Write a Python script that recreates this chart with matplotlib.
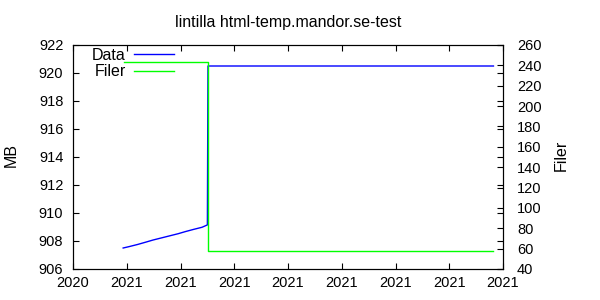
import matplotlib
matplotlib.use("Agg")
import matplotlib.pyplot as plt

plt.rcParams['font.family'] = ['Liberation Sans', 'DejaVu Sans']
plt.rcParams['font.size'] = 10

# =======================
# Data (days since start of x range)
# =======================
data_days = [42, 47, 54, 61, 67, 74, 81, 88, 94, 101, 108, 112.5, 113, 352]
data_mb = [907.50, 907.60, 907.75, 907.92, 908.07, 908.22, 908.37, 908.52,
           908.67, 908.83, 908.98, 909.15, 920.50, 920.50]

filer_days = [43, 113, 352]
filer_count = [243, 58, 58]

x_ticks = [0, 45, 90, 135, 180, 225, 270, 315, 360]
x_tick_labels = ["2020", "2021", "2021", "2021", "2021", "2021", "2021", "2021", "2021"]
y_ticks = [906, 908, 910, 912, 914, 916, 918, 920, 922]
y2_ticks = [40, 60, 80, 100, 120, 140, 160, 180, 200, 220, 240, 260]

TITLE = "lintilla html-temp.mandor.se-test"
TICK_FS = 10.5
TEXT_FS = 11.5

# =======================
# Plot
# =======================
fig = plt.figure(figsize=(6, 3), dpi=100)
ax = fig.add_axes([73/600, 1 - 269/300, 430/600, 224/300])
ax2 = ax.twinx()

l1, = ax.plot(data_days, data_mb, color='#0000ff', lw=1.0, label='Data')
l2, = ax2.plot(filer_days, filer_count, color='#00ff00', lw=1.0, drawstyle='steps-post', label='Filer')

ax.set_xlim(x_ticks[0], x_ticks[-1])
ax.set_ylim(y_ticks[0], y_ticks[-1])
ax2.set_ylim(y2_ticks[0], y2_ticks[-1])
ax.set_xticks(x_ticks)
ax.set_xticklabels(x_tick_labels)
ax.set_yticks(y_ticks)
ax2.set_yticks(y2_ticks)

ax.tick_params(axis='x', direction='in', length=4, width=0.8, top=True, pad=5, labelsize=TICK_FS)
ax.tick_params(axis='y', direction='in', length=4, width=0.8, right=True, pad=7, labelsize=TICK_FS)
ax2.tick_params(axis='y', direction='in', length=4, width=0.8, pad=10, labelsize=TICK_FS)
for a in (ax, ax2):
    for s in a.spines.values():
        s.set_linewidth(0.8)

fig.text(288/600, 1 - 22/300, TITLE, ha='center', va='center', fontsize=TEXT_FS)
fig.text(11/600, 1 - 155/300, "MB", ha='center', va='center', rotation=90, fontsize=TEXT_FS)
fig.text(561/600, 1 - 155/300, "Filer", ha='center', va='center', rotation=90, fontsize=TEXT_FS)

fig.legend(handles=[l1, l2], loc='upper right', bbox_to_anchor=(176/600, 1 - 46/300),
           frameon=False, markerfirst=False, handlelength=2.5, handletextpad=0.55,
           labelspacing=0.1, borderpad=0.1, borderaxespad=0, fontsize=TEXT_FS)

fig.savefig("out.png", dpi=100)
